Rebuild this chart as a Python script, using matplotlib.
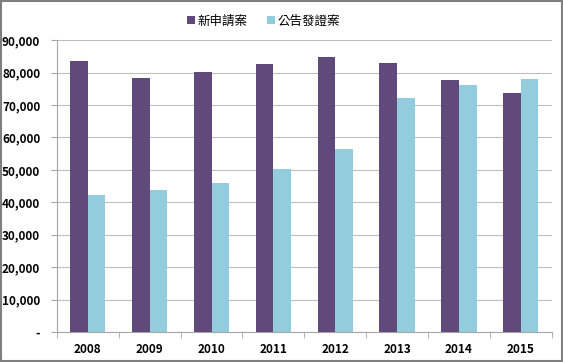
# 新申請案 / 公告發證案 長條圖

from matplotlib import pyplot as plt
from matplotlib.ticker import FuncFormatter
import numpy as np

plt.rcParams['font.family'] = ['Noto Sans CJK TC', 'DejaVu Sans']

# dane
years = ['2008', '2009', '2010', '2011', '2012', '2013', '2014', '2015']
new_apps = [83500, 78200, 80300, 82700, 84800, 83000, 77800, 73600]
granted = [42300, 43800, 46000, 50300, 56500, 72100, 76100, 78000]
series_names = ['新申請案', '公告發證案']


def fmt(v, pos):
    if v == 0:
        return '-'
    return f'{int(v):,}'


def wykres():
    fig = plt.figure(figsize=(5.63, 3.62), dpi=100)
    ax = fig.add_axes([0.101, 0.083, 0.879, 0.806])

    x = np.arange(len(years))
    w = 0.285
    ax.bar(x - w / 2, new_apps, w, color='#604A7B', label=series_names[0], zorder=3)
    ax.bar(x + w / 2, granted, w, color='#93CDDD', label=series_names[1], zorder=3)

    # osie
    ax.set_xlim(-0.5, len(years) - 0.5)
    ax.set_ylim(0, 90000)
    ax.set_yticks(np.arange(0, 90001, 10000))
    ax.yaxis.set_major_formatter(FuncFormatter(fmt))
    ax.set_xticks(x)
    ax.set_xticklabels(years)
    ax.set_xticks(np.arange(-0.5, len(years), 1), minor=True)

    ax.grid(True, axis='y', color='#BEBEBE', linewidth=0.8, zorder=0)
    for s in ['top', 'right']:
        ax.spines[s].set_visible(False)
    for s in ['left', 'bottom']:
        ax.spines[s].set_color('#A6A6A6')
    ax.tick_params(axis='y', length=4, color='#A6A6A6', labelsize=8.5, pad=8)
    ax.tick_params(axis='x', which='major', length=0, labelsize=8.5, pad=8)
    ax.tick_params(axis='x', which='minor', length=4, color='#A6A6A6')
    for t in ax.get_xticklabels() + ax.get_yticklabels():
        t.set_fontweight('bold')

    fig.legend(loc='upper center', bbox_to_anchor=(0.468, 0.99), ncol=2,
               frameon=False, fontsize=9, handlelength=0.6, handleheight=0.6,
               columnspacing=1.6, handletextpad=0.2)

    # ramka
    fig.patches.append(plt.Rectangle((0.002, 0.003), 0.996, 0.994, transform=fig.transFigure,
                                     fill=False, edgecolor='#7F7F7F', linewidth=1.5))

    fig.savefig('out.png', dpi=100)


wykres()
